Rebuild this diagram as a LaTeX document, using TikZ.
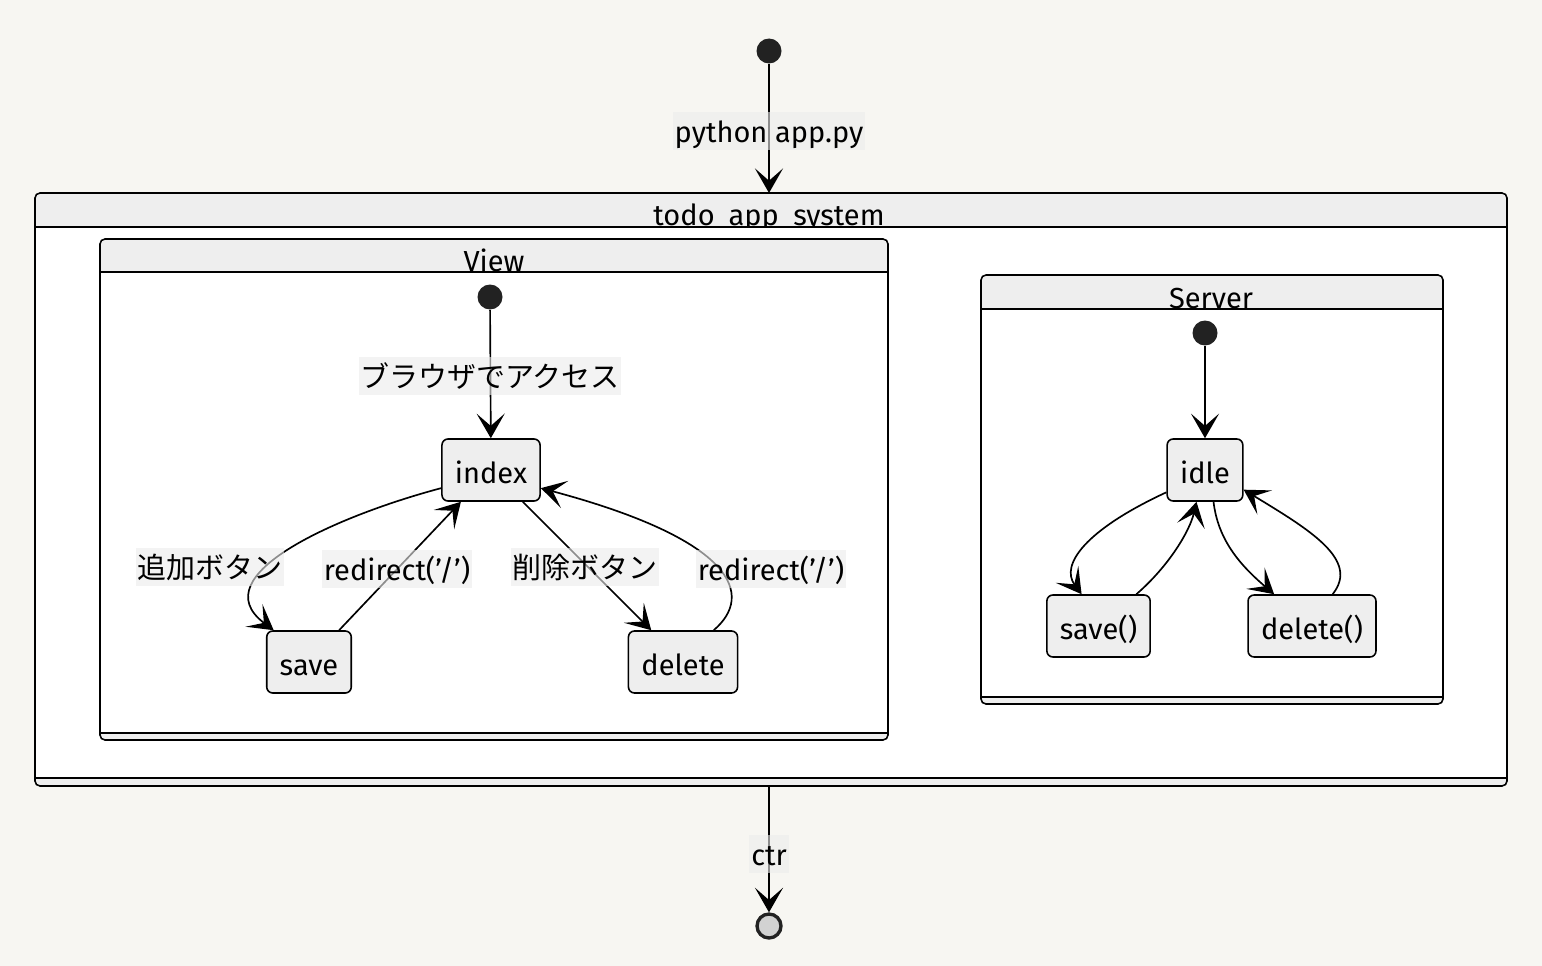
\documentclass[tikz,border=0pt]{standalone}
\usepackage{fontspec}
\setmainfont{Fira Sans}
\newfontfamily\jp{Noto Sans CJK JP}
\usetikzlibrary{arrows.meta,positioning}
\definecolor{paper}{RGB}{247,246,242}
\definecolor{boxgray}{RGB}{238,238,238}
\definecolor{lblgray}{RGB}{236,236,236}
\definecolor{dotblack}{RGB}{34,34,34}
\newcommand{\sq}{\symbol{39}}
\tikzset{
  state/.style={
    shape = rectangle,
    draw,
    fill = boxgray,
    rounded corners = 0.12cm,
    line width = 0.9pt,
    minimum height = 1.24cm,
    inner xsep = 0.26cm,
    text height = 15pt,
    text depth = 0pt,
    font = \fontsize{16.5}{18}\selectfont
  },
  startdot/.style={
    shape = circle,
    fill = dotblack,
    minimum size = 0.5cm,
    inner sep = 0
  },
  stopdot/.style={
    shape = circle,
    draw = dotblack,
    line width = 1.9pt,
    fill = gray!35,
    minimum size = 0.48cm,
    inner sep = 0
  },
  trans/.style={
    -{Stealth[length=14pt,width=16pt,inset=7pt]},
    line width = 0.95pt
  },
  lbl/.style={
    fill = lblgray,
    fill opacity = 0.6,
    text opacity = 1,
    minimum height = 0.76cm,
    inner xsep = 1pt,
    text height = 13pt,
    text depth = 0pt,
    font = \fontsize{16.5}{18}\selectfont
  },
  cluster/.style={
    draw,
    fill = boxgray,
    line width = 0.9pt,
    rounded corners = 0.1cm
  },
  body/.style={
    draw,
    fill = white,
    line width = 0.9pt
  },
  title/.style={
    anchor = base,
    inner sep = 0,
    font = \fontsize{16.5}{18}\selectfont
  }
}

\begin{document}
\begin{tikzpicture}[x=0.02cm, y=-0.02cm]
  \fill[paper] (0,0) rectangle (1542,966);
  \useasboundingbox (0,0) rectangle (1542,966);

  % todo_app_system
  \draw[cluster] (35,193) rectangle (1507,786);
  \node[title] (systitle) at (769,226) {todo\_app\_system};
  \draw[body] (35,227) rectangle (1507,778);
  \coordinate (systop) at (769,193);
  \coordinate (sysbot) at (769,786);

  % View
  \draw[cluster] (100,239) rectangle (888,740);
  \node[title] (viewtitle) at (494,272) {View};
  \draw[body] (100,272) rectangle (888,733);

  % Server
  \draw[cluster] (981,275) rectangle (1443,704);
  \node[title] (servertitle) at (1211,309) {Server};
  \draw[body] (981,309) rectangle (1443,697);

  \node[startdot] (init) at (769,51) {};
  \node[stopdot] (final) at (769,926) {};

  \node[startdot] (viewinit) at (490,297) {};
  \node[state] (index) at (491,470) {index};
  \node[state] (save) at (309,662) {save};
  \node[state] (delete) at (683,662) {delete};

  \node[startdot] (srvinit) at (1205,333) {};
  \node[state] (idle) at (1205,470) {idle};
  \node[state] (srvsave) at (1098.5,626) {save()};
  \node[state] (srvdelete) at (1312,626) {delete()};

  \draw[trans] (init) -- (systop);
  \draw[trans] (sysbot) -- (final);

  \draw[trans] (viewinit) -- (index);
  \draw[trans] (index.200) .. controls (340,515) and (200,575) .. (save.138);
  \draw[trans] (save) -- (index);
  \draw[trans] (index) -- (delete);
  \draw[trans] (delete.46) .. controls (755,595) and (735,540) .. (index.340);

  \draw[trans] (srvinit) -- (idle);
  \draw[trans] (idle.210) .. controls (1085,530) and (1060,565) .. (srvsave.118);
  \draw[trans] (srvsave.40) .. controls (1170,565) and (1190,530) .. (idle.255);
  \draw[trans] (idle.285) .. controls (1218,540) and (1240,565) .. (srvdelete.140);
  \draw[trans] (srvdelete.57) .. controls (1360,560) and (1310,530) .. (idle.333);

  \node[lbl] (lblrun) at (769,131) {python app.py};
  \node[lbl] (lblctr) at (769,854) {ctr};
  \node[lbl] (lblopen) at (490,376) {\jp ブラウザでアクセス};
  \node[lbl] (lbladd) at (210,567) {\jp 追加ボタン};
  \node[lbl] (lblback) at (397,569) {redirect(\sq/\sq)};
  \node[lbl] (lbldel) at (585,567) {\jp 削除ボタン};
  \node[lbl] (lblbackd) at (771,569) {redirect(\sq/\sq)};
\end{tikzpicture}
\end{document}
